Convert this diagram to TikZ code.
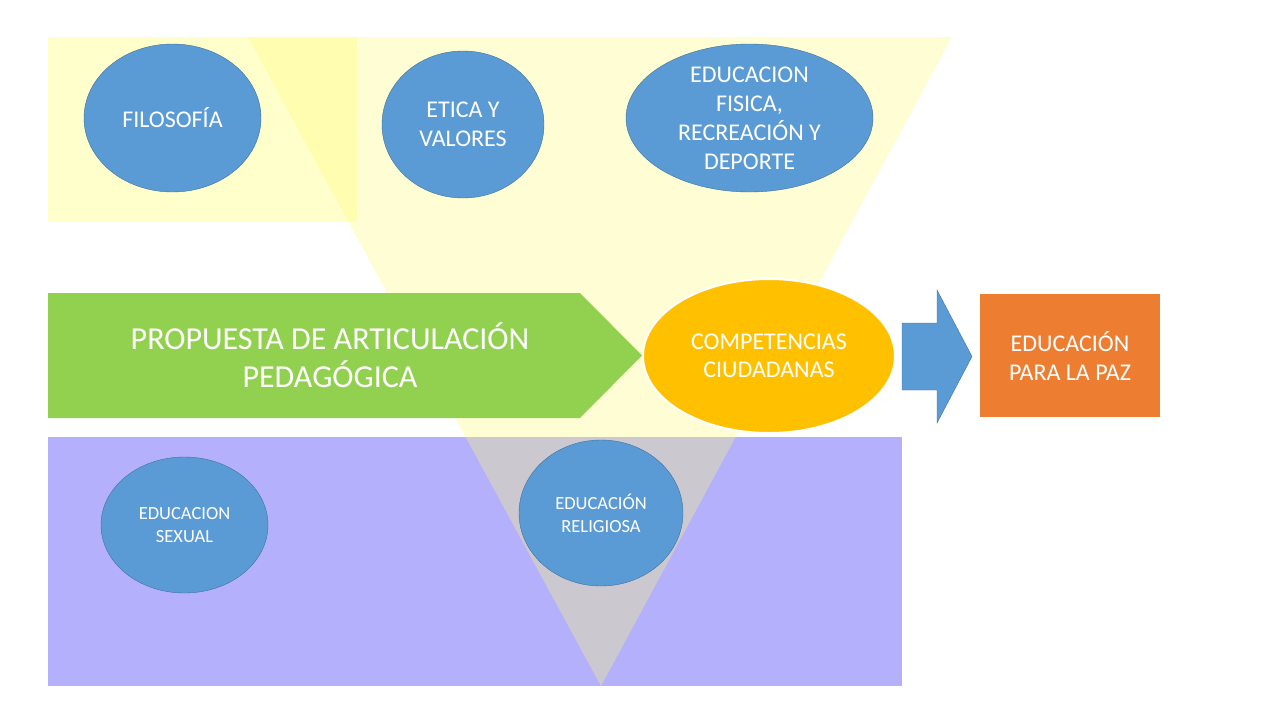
\documentclass[tikz,border=0pt]{standalone}
\usepackage{fontspec}
\setmainfont{Carlito}
\usepackage{xcolor}
\usetikzlibrary{shapes, positioning}

\definecolor{paleyellow}{RGB}{255,255,204}
\definecolor{beamyellow}{RGB}{255,250,120}
\definecolor{lavender}{RGB}{180,176,251}
\definecolor{leafgreen}{RGB}{146,208,80}
\definecolor{gold}{RGB}{255,192,0}
\definecolor{skyblue}{RGB}{91,155,213}
\definecolor{blueedge}{RGB}{65,113,156}
\definecolor{tangerine}{RGB}{237,125,49}

\begin{document}
\begin{tikzpicture}[
    x=1pt, y=-1pt,
    bubble/.style={ellipse, draw=blueedge, fill=skyblue, thin, inner sep=0pt},
    bigtext/.style={text=white, align=center, font=\fontsize{24}{29}\selectfont},
    smalltext/.style={text=white, align=center, font=\fontsize{18.5}{23}\selectfont}
]
    \useasboundingbox (0,0) rectangle (1280,720);

    % Background areas
    \fill[paleyellow] (48,37) rectangle (357,222);
    \fill[lavender] (48,437) rectangle (902,686);
    \fill[beamyellow, fill opacity=0.33] (248,37) -- (952,37) -- (601,686) -- cycle;

    % Main arrow
    \fill[leafgreen] (48,293) -- (580,293) -- (642,355.5) -- (580,418) -- (48,418) -- cycle;
    \node[text=white, align=center, font=\fontsize{32}{38}\selectfont] (propuesta) at (330,355)
        {PROPUESTA DE ARTICULACIÓN\\PEDAGÓGICA};

    % Subjects
    \node[bubble, minimum width=177, minimum height=148] (filo) at (172.5,118) {};
    \node[bigtext] (filotxt) at (filo) {FILOSOFÍA};
    \node[bubble, minimum width=162, minimum height=147] (etica) at (463,124.5) {};
    \node[bigtext] (eticatxt) at (etica) {ETICA Y\\VALORES};
    \node[bubble, minimum width=247, minimum height=148] (fisica) at (749.5,118) {};
    \node[bigtext] (fisicatxt) at (fisica) {EDUCACION\\FISICA,\\RECREACIÓN Y\\DEPORTE};
    \node[bubble, minimum width=167, minimum height=136] (sexual) at (184.5,525) {};
    \node[smalltext] (sexualtxt) at (sexual) {EDUCACION\\SEXUAL};
    \node[bubble, minimum width=164, minimum height=146] (religion) at (601,513) {};
    \node[smalltext] (religiontxt) at (religion) {EDUCACIÓN\\RELIGIOSA};

    % Result
    \node[ellipse, fill=gold, draw=white, line width=2pt, minimum width=252, minimum height=154] (comp) at (769,356) {};
    \node[bigtext, font=\fontsize{24}{28}\selectfont] (comptxt) at (comp) {COMPETENCIAS\\CIUDADANAS};
    \fill[skyblue, draw=blueedge, thin] (902,323) -- (937,323) -- (937,290) -- (972,356.5)
        -- (937,423) -- (937,390) -- (902,390) -- cycle;
    \node[fill=tangerine, minimum width=180, minimum height=123] (paz) at (1070,355.5) {};
    \node[bigtext] (paztxt) at (paz) {EDUCACIÓN\\PARA LA PAZ};
\end{tikzpicture}
\end{document}
